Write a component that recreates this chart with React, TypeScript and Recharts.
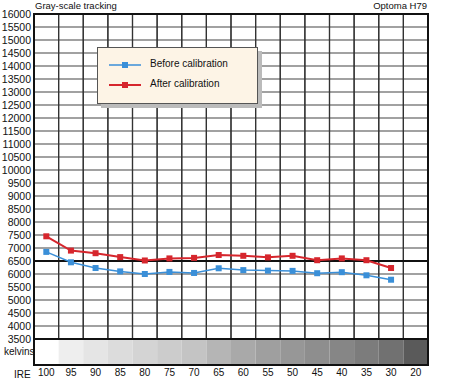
import React from "react";
import {
  LineChart,
  Line,
  XAxis,
  YAxis,
  CartesianGrid,
  ReferenceArea,
  ReferenceLine,
} from "recharts";

const categories = ["100", "95", "90", "85", "80", "75", "70", "65", "60", "55", "50", "45", "40", "35", "30", "20"];
const beforeValues: (number | null)[] = [6850, 6450, 6230, 6100, 6000, 6080, 6040, 6220, 6150, 6130, 6120, 6030, 6070, 5950, 5780, null];
const afterValues: (number | null)[] = [7450, 6900, 6800, 6650, 6520, 6600, 6620, 6730, 6700, 6640, 6700, 6530, 6600, 6530, 6230, null];
const yTicks = [3500, 4000, 4500, 5000, 5500, 6000, 6500, 7000, 7500, 8000, 8500, 9000, 9500, 10000, 10500, 11000, 11500, 12000, 12500, 13000, 13500, 14000, 14500, 15000, 15500, 16000];
const bandGrays = ["#ffffff", "#eeeeee", "#e5e5e5", "#dcdcdc", "#d4d4d4", "#cccccc", "#c4c4c4", "#b5b5b5", "#a9a9a9", "#9f9f9f", "#979797", "#8e8e8e", "#868686", "#7c7c7c", "#717171", "#5a5a5a"];

const data = categories.map((c, i) => ({ ire: c, before: beforeValues[i], after: afterValues[i] }));

const FONT = '"Liberation Sans", Arial, sans-serif';
const BLUE = "#3a8fd8";
const RED = "#d6262d";

const makeDot = (color: string) => (props: any) => {
  const { cx, cy, index } = props;
  if (cx == null || cy == null || props.value == null) return <g key={`d-${index}`} />;
  return <rect key={`d-${index}`} x={cx - 3} y={cy - 3} width={6} height={6} fill={color} />;
};

export default function App() {
  return (
    <div style={{ position: "absolute", left: 0, top: 0, width: 450, height: 380, fontFamily: FONT, background: "#fff" }}>
      <LineChart width={450} height={380} data={data} margin={{ top: 14, right: 22, left: 0, bottom: 0 }}>
        <CartesianGrid vertical={false} stroke="#444" strokeWidth={1.2} />
        {categories.map((c, i) => (
          <ReferenceArea key={`band-${c}`} x1={c} x2={c} y1={2500} y2={3500} fill={bandGrays[i]} fillOpacity={1} stroke="none" ifOverflow="visible" />
        ))}
        {categories.map((c) => (
          <ReferenceArea key={`col-${c}`} x1={c} x2={c} y1={3500} y2={16000} fill="none" fillOpacity={0} stroke="#333" strokeWidth={1.2} ifOverflow="visible" />
        ))}
        <ReferenceLine y={3500} stroke="#111" strokeWidth={2} />
        <ReferenceLine y={6500} stroke="#111" strokeWidth={2} />
        <ReferenceArea y1={2500} y2={16000} fill="none" fillOpacity={0} stroke="#111" strokeWidth={2} ifOverflow="visible" />
        <XAxis
          dataKey="ire"
          scale="band"
          height={15}
          tickSize={0}
          tickMargin={4}
          axisLine={false}
          interval={0}
          tick={{ fontSize: 10, fill: "#111", fontFamily: FONT }}
        />
        <YAxis
          width={34}
          domain={[2500, 16000]}
          ticks={yTicks}
          interval={0}
          axisLine={false}
          tickLine={false}
          tickSize={0}
          tickMargin={3}
          tick={{ fontSize: 10.5, fill: "#111", fontFamily: FONT }}
        />
        <Line
          dataKey="before"
          stroke={BLUE}
          strokeWidth={1.5}
          dot={makeDot(BLUE)}
          activeDot={false}
          isAnimationActive={false}
          connectNulls={false}
        />
        <Line
          dataKey="after"
          stroke={RED}
          strokeWidth={2}
          dot={makeDot(RED)}
          activeDot={false}
          isAnimationActive={false}
          connectNulls={false}
        />
      </LineChart>

      <div style={{ position: "absolute", left: 35, top: 0, fontSize: 9.5, color: "#111", lineHeight: "12px" }}>Gray-scale tracking</div>
      <div style={{ position: "absolute", right: 23, top: 0, fontSize: 9.5, color: "#111", lineHeight: "12px" }}>Optoma H79</div>
      <div style={{ position: "absolute", left: 4, top: 346, fontSize: 10, color: "#111", lineHeight: "12px" }}>kelvins</div>
      <div style={{ position: "absolute", left: 14, top: 369, fontSize: 10, color: "#111", lineHeight: "12px" }}>IRE</div>

      <div
        style={{
          position: "absolute",
          left: 97,
          top: 47,
          width: 159,
          height: 55,
          background: "#fdf4e6",
          border: "1px solid #555",
          boxShadow: "4px 4px 0 #bbbbbb",
          fontSize: 10,
          color: "#111",
        }}
      >
        <svg width={40} height={55} style={{ position: "absolute", left: 10, top: 0 }}>
          <line x1={1} y1={17} x2={33} y2={17} stroke={BLUE} strokeWidth={1.5} />
          <rect x={14} y={14} width={6} height={6} fill={BLUE} />
          <line x1={1} y1={37} x2={33} y2={37} stroke={RED} strokeWidth={2} />
          <rect x={14} y={34} width={6} height={6} fill={RED} />
        </svg>
        <div style={{ position: "absolute", left: 52, top: 10, lineHeight: "12px" }}>Before calibration</div>
        <div style={{ position: "absolute", left: 52, top: 30, lineHeight: "12px" }}>After calibration</div>
      </div>
    </div>
  );
}
